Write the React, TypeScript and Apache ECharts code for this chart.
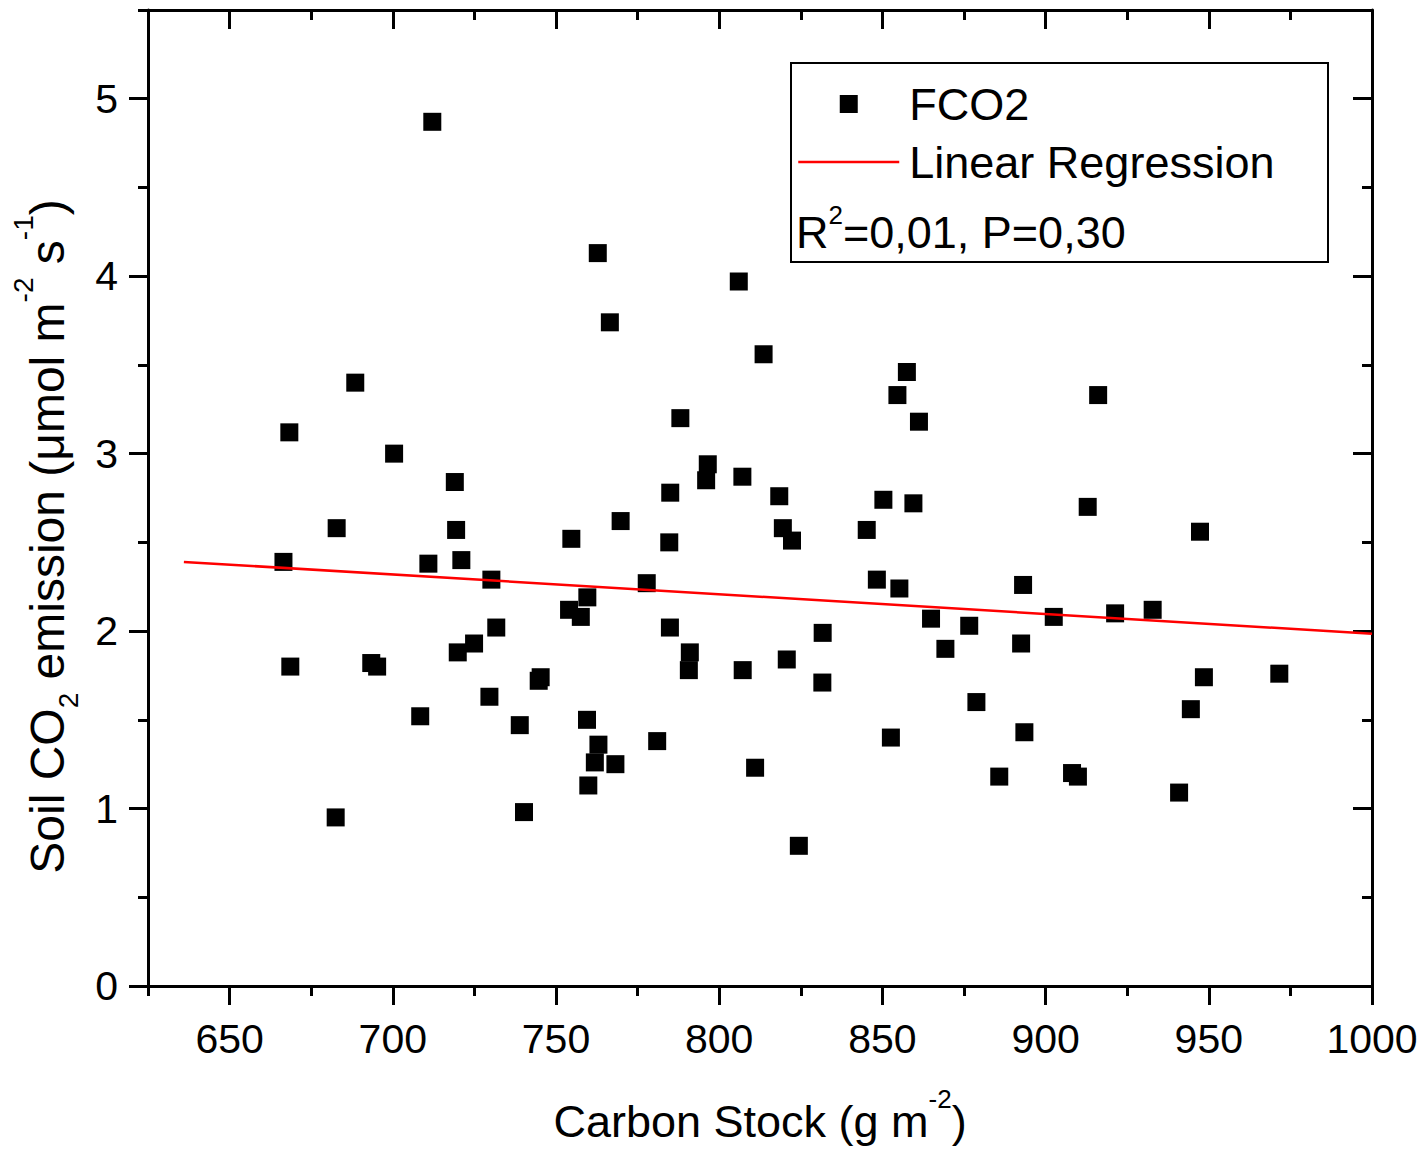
import React, { useEffect, useRef } from "react";
import * as echarts from "echarts";

// Scatter values
const carbonStock = [
  712.1, 762.8, 806.0, 766.5, 813.6, 688.5, 857.5, 854.6, 916.1, 668.3,
  788.1, 861.2, 700.4, 796.5, 796.0, 807.1, 719.0, 785.0, 818.4, 850.3,
  859.5, 912.9, 682.8, 719.4, 769.8, 819.5, 845.2, 947.3, 754.7, 784.7,
  822.3, 666.5, 710.9, 721.0, 730.2, 848.3, 855.2, 777.8, 893.1, 754.0,
  757.6, 759.6, 902.5, 921.3, 932.8, 864.9, 731.7, 784.9, 831.7, 876.6,
  719.9, 724.9, 791.0, 790.7, 869.3, 892.5, 668.6, 693.4, 695.2, 820.7,
  807.2, 745.3, 744.7, 831.6, 948.5, 971.6, 729.6, 878.8, 944.5, 708.4,
  759.5, 738.9, 781.0, 763.0, 852.6, 893.5, 761.9, 768.2, 811.0, 885.8,
  908.1, 909.9, 759.9, 940.9, 682.5, 740.2, 824.4,
];
const fco2 = [
  4.87, 4.13, 3.97, 3.74, 3.56, 3.40, 3.46, 3.33, 3.33, 3.12,
  3.20, 3.18, 3.00, 2.94, 2.85, 2.87, 2.84, 2.78, 2.76, 2.74,
  2.72, 2.70, 2.58, 2.57, 2.62, 2.58, 2.57, 2.56, 2.52, 2.50,
  2.51, 2.39, 2.38, 2.40, 2.29, 2.29, 2.24, 2.27, 2.26, 2.12,
  2.08, 2.19, 2.08, 2.10, 2.12, 2.07, 2.02, 2.02, 1.99, 2.03,
  1.88, 1.93, 1.88, 1.78, 1.90, 1.93, 1.80, 1.82, 1.80, 1.84,
  1.78, 1.74, 1.72, 1.71, 1.74, 1.76, 1.63, 1.60, 1.56, 1.52,
  1.50, 1.47, 1.38, 1.36, 1.40, 1.43, 1.26, 1.25, 1.23, 1.18,
  1.20, 1.18, 1.13, 1.09, 0.95, 0.98, 0.79,
];
// Regression line end points
const regressionX = [636, 1000];
const regressionY = [2.39, 1.985];

const xTickValues = [650, 700, 750, 800, 850, 900, 950, 1000];
const yTickValues = [0, 1, 2, 3, 4, 5];
const seriesNames = ["FCO2", "Linear Regression"];
const statsText = "{a|R}{sup2|2}{a|=0,01, P=0,30}";
const xTitle = "{a|Carbon Stock (g m}{sup|-2}{a|)}";
const yTitle = "{a|Soil CO}{sub|2}{a| emission (μmol m}{sup|-2}{a| s}{sup|-1}{a|)}";

const FONT = "'Liberation Sans', Arial, Helvetica, sans-serif";

const rich: any = {
  a: { fontFamily: FONT, fontSize: 45, lineHeight: 60, color: "#000", verticalAlign: "middle" },
  sup: { fontFamily: FONT, fontSize: 26, height: 16, lineHeight: 16, verticalAlign: "top", color: "#000" },
  sup2: { fontFamily: FONT, fontSize: 26, height: 26, lineHeight: 26, verticalAlign: "top", color: "#000" },
  sub: { fontFamily: FONT, fontSize: 26, height: 20, lineHeight: 20, verticalAlign: "bottom", color: "#000" },
};

const richY: any = {
  a: { fontFamily: FONT, fontSize: 48, lineHeight: 64, color: "#000", verticalAlign: "middle" },
  sup: { fontFamily: FONT, fontSize: 28, height: 16, lineHeight: 16, verticalAlign: "top", color: "#000" },
  sub: { fontFamily: FONT, fontSize: 28, height: 22, lineHeight: 22, verticalAlign: "bottom", color: "#000" },
};

const tickLine = { color: "#000", width: 3 };
const plainNumber = (v: number) => String(v);

function xAxisDef(position: "bottom" | "top", major: boolean) {
  const isBottom = position === "bottom";
  const base: any = {
    type: "value",
    position,
    min: 625,
    max: 1000,
    interval: 25,
    axisLine: { show: major, onZero: false, lineStyle: { color: "#000", width: 3 } },
    axisTick: {
      show: true,
      inside: !isBottom,
      length: major ? 19 : 10,
      lineStyle: tickLine,
      ...(major ? { customValues: xTickValues } : {}),
    },
    axisLabel: { show: false },
    splitLine: { show: false },
    minorTick: { show: false },
  };
  if (isBottom && major) {
    base.axisLabel = {
      show: true,
      customValues: xTickValues,
      formatter: plainNumber,
      fontFamily: FONT,
      fontSize: 41,
      color: "#000",
      margin: 32,
    };
    base.name = xTitle;
    base.nameLocation = "middle";
    base.nameGap = 105;
    base.nameTextStyle = { rich };
  }
  return base;
}

function yAxisDef(position: "left" | "right", major: boolean) {
  const isLeft = position === "left";
  const base: any = {
    type: "value",
    position,
    min: 0,
    max: 5.5,
    interval: 0.5,
    axisLine: { show: major, onZero: false, lineStyle: { color: "#000", width: 3 } },
    axisTick: {
      show: true,
      inside: !isLeft,
      length: major ? 19 : 10,
      lineStyle: tickLine,
      ...(major ? { customValues: yTickValues } : {}),
    },
    axisLabel: { show: false },
    splitLine: { show: false },
    minorTick: { show: false },
  };
  if (isLeft && major) {
    base.axisLabel = {
      show: true,
      customValues: yTickValues,
      formatter: plainNumber,
      fontFamily: FONT,
      fontSize: 41,
      color: "#000",
      margin: 30,
    };
    base.name = yTitle;
    base.nameLocation = "middle";
    base.nameGap = 69;
    base.nameTextStyle = { rich: richY, padding: [0, 77, 0, 0] };
  }
  return base;
}

export default function App() {
  const ref = useRef<HTMLDivElement>(null);

  useEffect(() => {
    if (!ref.current) return;
    const chart = echarts.init(ref.current, null, { renderer: "svg" });
    const scatterData = carbonStock.map((x, i) => [x, fco2[i]]);
    const lineData = regressionX.map((x, i) => [x, regressionY[i]]);

    chart.setOption({
      animation: false,
      backgroundColor: "#fff",
      textStyle: { fontFamily: FONT },
      grid: {
        left: 148,
        top: 10,
        width: 1224,
        height: 976,
        containLabel: false,
        outerBoundsMode: "none",
      },
      xAxis: [
        xAxisDef("bottom", true),
        xAxisDef("bottom", false),
        xAxisDef("top", true),
        xAxisDef("top", false),
      ],
      yAxis: [
        yAxisDef("left", true),
        yAxisDef("left", false),
        yAxisDef("right", true),
        yAxisDef("right", false),
      ],
      legend: {
        show: true,
        orient: "vertical",
        left: 797,
        top: 79,
        padding: 0,
        itemGap: 8,
        itemWidth: 101,
        itemHeight: 18,
        selectedMode: false,
        textStyle: {
          fontFamily: FONT,
          fontSize: 45,
          color: "#000",
          lineHeight: 50,
          padding: [0, 0, 0, 5],
        },
        data: [
          {
            name: seriesNames[0],
            icon: "path://M0,0L10,0L10,10L0,10Z",
            itemStyle: { color: "#000", opacity: 1 },
          },
          {
            name: seriesNames[1],
            itemStyle: { opacity: 0 },
            lineStyle: { color: "#ff0000", width: 2.5, opacity: 1 },
          },
        ],
      },
      graphic: [
        {
          type: "rect",
          z: 100,
          shape: { x: 791, y: 63, width: 537, height: 199 },
          style: { fill: "none", stroke: "#000", lineWidth: 2 },
          silent: true,
        },
        {
          type: "text",
          z: 100,
          x: 796,
          y: 232,
          style: { text: statsText, rich, align: "left", verticalAlign: "middle" },
          silent: true,
        },
      ],
      series: [
        {
          type: "scatter",
          name: seriesNames[0],
          xAxisIndex: 0,
          yAxisIndex: 0,
          data: scatterData,
          symbol: "rect",
          symbolSize: 18,
          itemStyle: { color: "#000", opacity: 1 },
        },
        {
          type: "line",
          name: seriesNames[1],
          xAxisIndex: 0,
          yAxisIndex: 0,
          data: lineData,
          symbol: "none",
          showSymbol: false,
          lineStyle: { color: "#ff0000", width: 2.5 },
          itemStyle: { color: "#ff0000" },
        },
      ],
    });

    return () => chart.dispose();
  }, []);

  return (
    <div
      ref={ref}
      style={{ position: "absolute", left: 0, top: 0, width: 1422, height: 1151 }}
    />
  );
}
